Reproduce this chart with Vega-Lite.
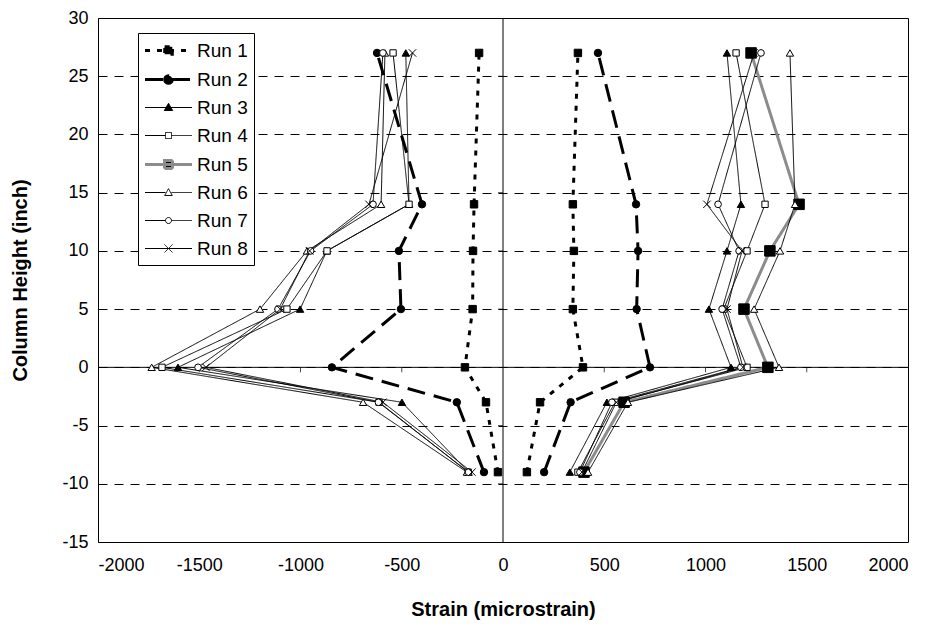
{
  "$schema": "https://vega.github.io/schema/vega-lite/v6.json",
  "width": 810,
  "height": 524,
  "autosize": "none",
  "padding": {"left": 98, "top": 18, "right": 25, "bottom": 88},
  "background": "white",
  "config": {
    "font": "Liberation Sans",
    "view": {"stroke": "black", "strokeWidth": 1},
    "axis": {"labelColor": "black", "titleColor": "black", "labelFont": "Liberation Sans", "titleFont": "Liberation Sans"}
  },
  "datasets": {
    "runs": [
      {"run":"Run 1","side":"L","h":27,"s":-118},{"run":"Run 1","side":"L","h":14,"s":-143},{"run":"Run 1","side":"L","h":10,"s":-148},{"run":"Run 1","side":"L","h":5,"s":-150},{"run":"Run 1","side":"L","h":0,"s":-188},{"run":"Run 1","side":"L","h":-3,"s":-84},{"run":"Run 1","side":"L","h":-9,"s":-25},
      {"run":"Run 1","side":"R","h":27,"s":370},{"run":"Run 1","side":"R","h":14,"s":345},{"run":"Run 1","side":"R","h":10,"s":350},{"run":"Run 1","side":"R","h":5,"s":345},{"run":"Run 1","side":"R","h":0,"s":395},{"run":"Run 1","side":"R","h":-3,"s":183},{"run":"Run 1","side":"R","h":-9,"s":118},
      {"run":"Run 2","side":"L","h":27,"s":-622},{"run":"Run 2","side":"L","h":14,"s":-400},{"run":"Run 2","side":"L","h":10,"s":-514},{"run":"Run 2","side":"L","h":5,"s":-504},{"run":"Run 2","side":"L","h":0,"s":-845},{"run":"Run 2","side":"L","h":-3,"s":-228},{"run":"Run 2","side":"L","h":-9,"s":-94},
      {"run":"Run 2","side":"R","h":27,"s":469},{"run":"Run 2","side":"R","h":14,"s":657},{"run":"Run 2","side":"R","h":10,"s":667},{"run":"Run 2","side":"R","h":5,"s":660},{"run":"Run 2","side":"R","h":0,"s":726},{"run":"Run 2","side":"R","h":-3,"s":334},{"run":"Run 2","side":"R","h":-9,"s":203},
      {"run":"Run 3","side":"L","h":27,"s":-480},{"run":"Run 3","side":"L","h":14,"s":-464},{"run":"Run 3","side":"L","h":10,"s":-870},{"run":"Run 3","side":"L","h":5,"s":-1002},{"run":"Run 3","side":"L","h":0,"s":-1605},{"run":"Run 3","side":"L","h":-3,"s":-499},{"run":"Run 3","side":"L","h":-9,"s":-170},
      {"run":"Run 3","side":"R","h":27,"s":1106},{"run":"Run 3","side":"R","h":14,"s":1175},{"run":"Run 3","side":"R","h":10,"s":1106},{"run":"Run 3","side":"R","h":5,"s":1017},{"run":"Run 3","side":"R","h":0,"s":1126},{"run":"Run 3","side":"R","h":-3,"s":513},{"run":"Run 3","side":"R","h":-9,"s":330},
      {"run":"Run 4","side":"L","h":27,"s":-543},{"run":"Run 4","side":"L","h":14,"s":-464},{"run":"Run 4","side":"L","h":10,"s":-869},{"run":"Run 4","side":"L","h":5,"s":-1067},{"run":"Run 4","side":"L","h":0,"s":-1684},{"run":"Run 4","side":"L","h":-3,"s":-612},{"run":"Run 4","side":"L","h":-9,"s":-172},
      {"run":"Run 4","side":"R","h":27,"s":1151},{"run":"Run 4","side":"R","h":14,"s":1294},{"run":"Run 4","side":"R","h":10,"s":1205},{"run":"Run 4","side":"R","h":5,"s":1090},{"run":"Run 4","side":"R","h":0,"s":1205},{"run":"Run 4","side":"R","h":-3,"s":553},{"run":"Run 4","side":"R","h":-9,"s":370},
      {"run":"Run 5","side":"R","h":27,"s":1225},{"run":"Run 5","side":"R","h":14,"s":1462},{"run":"Run 5","side":"R","h":10,"s":1318},{"run":"Run 5","side":"R","h":5,"s":1190},{"run":"Run 5","side":"R","h":0,"s":1308},{"run":"Run 5","side":"R","h":-3,"s":598},{"run":"Run 5","side":"R","h":-9,"s":400},
      {"run":"Run 6","side":"L","h":27,"s":-583},{"run":"Run 6","side":"L","h":14,"s":-602},{"run":"Run 6","side":"L","h":10,"s":-968},{"run":"Run 6","side":"L","h":5,"s":-1200},{"run":"Run 6","side":"L","h":0,"s":-1735},{"run":"Run 6","side":"L","h":-3,"s":-691},{"run":"Run 6","side":"L","h":-9,"s":-178},
      {"run":"Run 6","side":"R","h":27,"s":1417},{"run":"Run 6","side":"R","h":14,"s":1442},{"run":"Run 6","side":"R","h":10,"s":1368},{"run":"Run 6","side":"R","h":5,"s":1240},{"run":"Run 6","side":"R","h":0,"s":1363},{"run":"Run 6","side":"R","h":-3,"s":617},{"run":"Run 6","side":"R","h":-9,"s":420},
      {"run":"Run 7","side":"L","h":27,"s":-593},{"run":"Run 7","side":"L","h":14,"s":-642},{"run":"Run 7","side":"L","h":10,"s":-950},{"run":"Run 7","side":"L","h":5,"s":-1111},{"run":"Run 7","side":"L","h":0,"s":-1506},{"run":"Run 7","side":"L","h":-3,"s":-615},{"run":"Run 7","side":"L","h":-9,"s":-170},
      {"run":"Run 7","side":"R","h":27,"s":1274},{"run":"Run 7","side":"R","h":14,"s":1062},{"run":"Run 7","side":"R","h":10,"s":1166},{"run":"Run 7","side":"R","h":5,"s":1082},{"run":"Run 7","side":"R","h":0,"s":1175},{"run":"Run 7","side":"R","h":-3,"s":538},{"run":"Run 7","side":"R","h":-9,"s":380},
      {"run":"Run 8","side":"L","h":27,"s":-447},{"run":"Run 8","side":"L","h":14,"s":-662},{"run":"Run 8","side":"L","h":10,"s":-955},{"run":"Run 8","side":"L","h":5,"s":-1100},{"run":"Run 8","side":"L","h":0,"s":-1467},{"run":"Run 8","side":"L","h":-3,"s":-593},{"run":"Run 8","side":"L","h":-9,"s":-153},
      {"run":"Run 8","side":"R","h":27,"s":1240},{"run":"Run 8","side":"R","h":14,"s":1007},{"run":"Run 8","side":"R","h":10,"s":1180},{"run":"Run 8","side":"R","h":5,"s":1106},{"run":"Run 8","side":"R","h":0,"s":1185},{"run":"Run 8","side":"R","h":-3,"s":560},{"run":"Run 8","side":"R","h":-9,"s":390}
    ]
  },
  "layer": [
    {
      "data": {"values": [{}]},
      "mark": {"type": "rule", "color": "black", "strokeWidth": 1},
      "encoding": {
        "y": {"datum": 0, "type": "quantitative", "scale": {"domain": [-15, 30], "nice": false, "zero": false},
          "axis": {"values": [-15,-10,-5,0,5,10,15,20,25,30], "labelExpr": "datum.value + ''", "grid": true, "gridColor": "black", "gridDash": [9,7], "gridWidth": 1, "gridOpacity": 1, "ticks": false, "domain": false, "labelFontSize": 18, "labelPadding": 10, "title": "Column Height (inch)", "titleFontSize": 20, "titleFontWeight": "bold", "titleX": -78, "titleY": 262, "titleAngle": -90, "titleAlign": "center", "titleBaseline": "middle"}}
      }
    },
    {
      "data": {"values": [{}]},
      "mark": {"type": "rule", "color": "black", "strokeWidth": 1},
      "encoding": {
        "x": {"datum": 0, "type": "quantitative", "scale": {"domain": [-2000, 2000], "nice": false, "zero": false},
          "axis": {"values": [-2000,-1500,-1000,-500,0,500,1000,1500,2000], "labelExpr": "datum.value + ''", "grid": false, "ticks": false, "domain": false, "labelFontSize": 18, "labelPadding": 14, "title": "Strain (microstrain)", "titleFontSize": 20, "titleFontWeight": "bold", "titleX": 405, "titleY": 67, "titleAlign": "center", "titleBaseline": "middle"}}
      }
    },
    {
      "data": {"values": [{"v": -1500}, {"v": -1000}, {"v": -500}, {"v": 500}, {"v": 1000}, {"v": 1500}]},
      "mark": {"type": "tick", "orient": "vertical", "color": "black", "size": 5, "thickness": 1, "yOffset": 2.5},
      "encoding": {"x": {"field": "v", "type": "quantitative"}, "y": {"datum": 0, "type": "quantitative"}}
    },
    {
      "data": {"values": [{"v": -10}, {"v": -5}, {"v": 5}, {"v": 10}, {"v": 15}, {"v": 20}, {"v": 25}]},
      "mark": {"type": "tick", "orient": "horizontal", "color": "black", "size": 5, "thickness": 1, "xOffset": -2.5},
      "encoding": {"y": {"field": "v", "type": "quantitative"}, "x": {"datum": 0, "type": "quantitative"}}
    },
    {
      "data": {"name": "runs"},
      "mark": {"type": "line", "strokeJoin": "miter"},
      "encoding": {
        "x": {"field": "s", "type": "quantitative"},
        "y": {"field": "h", "type": "quantitative"},
        "detail": {"field": "side", "type": "nominal"},
        "order": {"field": "h", "type": "quantitative"},
        "stroke": {"field": "run", "type": "nominal", "scale": {"domain": ["Run 1","Run 2","Run 3","Run 4","Run 5","Run 6","Run 7","Run 8"], "range": ["black","black","black","black","#8c8c8c","black","black","black"]}, "legend": null},
        "strokeDash": {"field": "run", "type": "nominal", "scale": {"domain": ["Run 1","Run 2","Run 3","Run 4","Run 5","Run 6","Run 7","Run 8"], "range": [[5,7],[18,9],[1,0],[1,0],[1,0],[1,0],[1,0],[1,0]]}, "legend": null},
        "strokeWidth": {"field": "run", "type": "ordinal", "scale": {"type": "ordinal", "domain": ["Run 1","Run 2","Run 3","Run 4","Run 5","Run 6","Run 7","Run 8"], "range": [3,3,1,1,3,1,1,1]}, "legend": null}
      }
    },
    {
      "data": {"name": "runs"},
      "mark": {"type": "point", "filled": true, "stroke": "black", "strokeWidth": 1, "opacity": 1},
      "encoding": {
        "x": {"field": "s", "type": "quantitative"},
        "y": {"field": "h", "type": "quantitative"},
        "shape": {"field": "run", "type": "nominal", "scale": {"domain": ["Run 1","Run 2","Run 3","Run 4","Run 5","Run 6","Run 7","Run 8"], "range": ["square","circle","triangle-up","square","square","triangle-up","circle","M-1,-1L1,1M1,-1L-1,1"]}, "legend": null},
        "fill": {"field": "run", "type": "nominal", "scale": {"domain": ["Run 1","Run 2","Run 3","Run 4","Run 5","Run 6","Run 7","Run 8"], "range": ["black","black","black","white","black","white","white","white"]}, "legend": null},
        "size": {"field": "run", "type": "ordinal", "scale": {"type": "ordinal", "domain": ["Run 1","Run 2","Run 3","Run 4","Run 5","Run 6","Run 7","Run 8"], "range": [55,55,55,40,110,55,45,55]}, "legend": null}
      }
    },
    {
      "data": {"name": "runs"},
      "mark": {"type": "point", "filled": true, "opacity": 0, "size": 400},
      "encoding": {
        "x": {"field": "s", "type": "quantitative"},
        "y": {"field": "h", "type": "quantitative"},
        "shape": {"field": "run", "type": "nominal", "scale": {"domain": ["Run 1","Run 2","Run 3","Run 4","Run 5","Run 6","Run 7","Run 8"], "range": [
          "M-2.35,0H2.35M-0.38,-0.38H0.38V0.38H-0.38Z",
          "M-2.35,0H2.35M0.38,0A0.38,0.38,0,1,1,-0.38,0A0.38,0.38,0,1,1,0.38,0Z",
          "M-2.35,0H2.35M0,-0.42L0.42,0.3H-0.42Z",
          "M-2.35,0H-0.3M0.3,0H2.35M-0.3,-0.3H0.3V0.3H-0.3Z",
          "M-2.35,0H2.35M-0.4,-0.4H0.4V0.4H-0.4Z",
          "M-2.35,0H-0.3M0.3,0H2.35M0,-0.38L0.38,0.3H-0.38Z",
          "M-2.35,0H-0.3M0.3,0H2.35M0.3,0A0.3,0.3,0,1,1,-0.3,0A0.3,0.3,0,1,1,0.3,0Z",
          "M-2.35,0H2.35M-0.4,-0.4L0.4,0.4M0.4,-0.4L-0.4,0.4"
        ]},
          "legend": {"title": null, "orient": "none", "legendX": 40, "legendY": 15, "symbolSize": 400, "symbolOffset": 13, "labelOffset": 17, "labelFontSize": 19, "labelFont": "Liberation Sans", "labelColor": "black", "rowPadding": 7, "padding": 6, "strokeColor": "black", "fillColor": "white", "symbolOpacity": 1, "encode": {"symbols": {"update": {"opacity": {"value": 1}}}}}},
        "fill": {"field": "run", "type": "nominal", "scale": {"domain": ["Run 1","Run 2","Run 3","Run 4","Run 5","Run 6","Run 7","Run 8"], "range": ["black","black","black","white","black","white","white","white"]}},
        "stroke": {"field": "run", "type": "nominal", "scale": {"domain": ["Run 1","Run 2","Run 3","Run 4","Run 5","Run 6","Run 7","Run 8"], "range": ["black","black","black","black","#8c8c8c","black","black","black"]}},
        "strokeDash": {"field": "run", "type": "nominal", "scale": {"domain": ["Run 1","Run 2","Run 3","Run 4","Run 5","Run 6","Run 7","Run 8"], "range": [[5,7],[18,9],[1,0],[1,0],[1,0],[1,0],[1,0],[1,0]]}},
        "strokeWidth": {"field": "run", "type": "ordinal", "scale": {"type": "ordinal", "domain": ["Run 1","Run 2","Run 3","Run 4","Run 5","Run 6","Run 7","Run 8"], "range": [3,3,1,1,3,1,1,1]}}
      }
    }
  ],
  "resolve": {"scale": {"shape": "independent", "fill": "independent", "stroke": "independent", "strokeDash": "independent", "strokeWidth": "independent", "size": "independent"}}
}
